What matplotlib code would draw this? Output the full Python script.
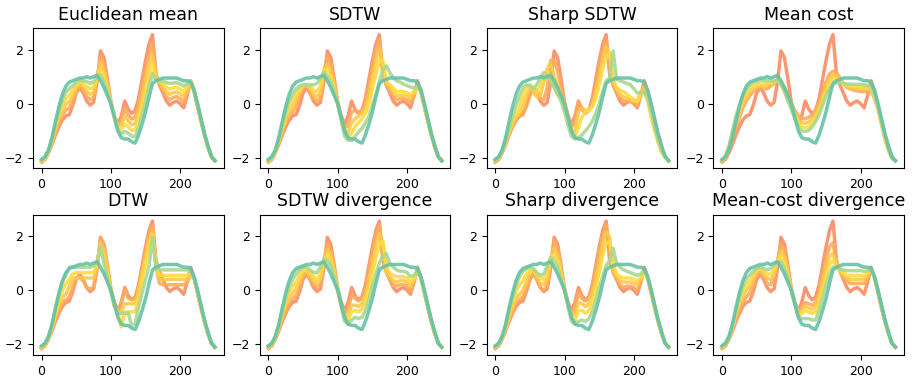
import matplotlib
matplotlib.use("Agg")
import matplotlib.pyplot as plt

# time axis, one sample every 5 steps
x = list(range(0, 251, 5))

# the two input series (orange-red and teal)
series_a = [-2.15, -2.05, -1.8, -1.5, -1.15, -0.85, -0.6, -0.45, -0.4, -0.05,
            0.4, 0.6, 0.4, 0.1, -0.05, 0.05, 0.8, 1.95, 1.7, 0.9,
            0.05, -0.45, -0.75, -0.45, 0.1, -0.2, -0.35, -0.25, 0.2, 0.9,
            1.6, 2.2, 2.55, 1.1, 0.7, 0.4, 0.1, -0.05, 0.05, 0.1,
            0.0, -0.15, 0.3, 0.85, 0.45, -0.1, -0.65, -1.15, -1.6, -1.95,
            -2.1]
series_b = [-2.05, -1.95, -1.7, -1.25, -0.65, -0.1, 0.35, 0.65, 0.8, 0.85,
            0.9, 0.95, 0.95, 1.0, 0.95, 1.0, 1.05, 0.85, 0.6, 0.3,
            0.0, -0.5, -1.0, -1.25, -1.3, -1.3, -1.4, -1.45, -1.15, -0.75,
            -0.3, 0.25, 0.75, 0.85, 0.9, 0.95, 0.95, 0.95, 0.95, 0.95,
            0.9, 0.85, 0.85, 0.8, 0.5, 0.0, -0.55, -1.1, -1.55, -1.95,
            -2.1]

# Euclidean mean
euc_1 = [-2.13, -2.03, -1.78, -1.45, -1.05, -0.7, -0.41, -0.23, -0.16, 0.13,
         0.5, 0.67, 0.51, 0.28, 0.15, 0.24, 0.85, 1.73, 1.48, 0.78,
         0.04, -0.46, -0.8, -0.61, -0.18, -0.42, -0.56, -0.49, -0.07, 0.57,
         1.22, 1.81, 2.19, 1.05, 0.74, 0.51, 0.27, 0.15, 0.23, 0.27,
         0.18, 0.05, 0.41, 0.84, 0.46, -0.08, -0.63, -1.14, -1.59, -1.95,
         -2.1]
euc_2 = [-2.11, -2.01, -1.76, -1.4, -0.95, -0.55, -0.22, -0.01, 0.08, 0.31,
         0.6, 0.74, 0.62, 0.46, 0.35, 0.43, 0.9, 1.51, 1.26, 0.66,
         0.03, -0.47, -0.85, -0.77, -0.46, -0.64, -0.77, -0.73, -0.34, 0.24,
         0.84, 1.42, 1.83, 1.0, 0.78, 0.62, 0.44, 0.35, 0.41, 0.44,
         0.36, 0.25, 0.52, 0.83, 0.47, -0.06, -0.61, -1.13, -1.58, -1.95,
         -2.1]
euc_3 = [-2.09, -1.99, -1.74, -1.35, -0.85, -0.4, -0.03, 0.21, 0.32, 0.49,
         0.7, 0.81, 0.73, 0.64, 0.55, 0.62, 0.95, 1.29, 1.04, 0.54,
         0.02, -0.48, -0.9, -0.93, -0.74, -0.86, -0.98, -0.97, -0.61, -0.09,
         0.46, 1.03, 1.47, 0.95, 0.82, 0.73, 0.61, 0.55, 0.59, 0.61,
         0.54, 0.45, 0.63, 0.82, 0.48, -0.04, -0.59, -1.12, -1.57, -1.95,
         -2.1]
euc_4 = [-2.07, -1.97, -1.72, -1.3, -0.75, -0.25, 0.16, 0.43, 0.56, 0.67,
         0.8, 0.88, 0.84, 0.82, 0.75, 0.81, 1.0, 1.07, 0.82, 0.42,
         0.01, -0.49, -0.95, -1.09, -1.02, -1.08, -1.19, -1.21, -0.88, -0.42,
         0.08, 0.64, 1.11, 0.9, 0.86, 0.84, 0.78, 0.75, 0.77, 0.78,
         0.72, 0.65, 0.74, 0.81, 0.49, -0.02, -0.57, -1.11, -1.56, -1.95,
         -2.1]

# SDTW
sdtw_1 = [-2.13, -2.03, -1.78, -1.45, -1.05, -0.7, -0.45, -0.3, -0.1, 0.3,
          0.6, 0.65, 0.45, 0.2, 0.1, 0.2, 1.2, 1.75, 1.45, 0.8,
          0.0, -0.5, -0.9, -0.8, -0.3, -0.25, -0.3, -0.25, 0.0, 0.6,
          1.3, 1.95, 2.35, 1.2, 0.7, 0.5, 0.3, 0.15, 0.2, 0.2,
          0.15, 0.05, 0.3, 0.7, 0.45, -0.08, -0.63, -1.14, -1.59, -1.95,
          -2.1]
sdtw_2 = [-2.11, -2.01, -1.75, -1.4, -0.95, -0.6, -0.3, -0.1, 0.15, 0.45,
          0.65, 0.7, 0.55, 0.35, 0.25, 0.4, 1.2, 1.45, 1.2, 0.65,
          0.0, -0.55, -1.0, -1.05, -0.7, -0.55, -0.45, -0.35, -0.15, 0.3,
          0.95, 1.6, 2.05, 1.4, 0.75, 0.6, 0.45, 0.3, 0.3, 0.3,
          0.3, 0.2, 0.35, 0.65, 0.45, -0.06, -0.61, -1.13, -1.58, -1.95,
          -2.1]
sdtw_3 = [-2.09, -1.99, -1.73, -1.35, -0.85, -0.45, -0.1, 0.15, 0.35, 0.55,
          0.7, 0.7, 0.65, 0.5, 0.45, 0.65, 1.25, 1.2, 1.0, 0.55,
          0.0, -0.6, -1.1, -1.2, -1.1, -0.85, -0.7, -0.55, -0.35, 0.0,
          0.55, 1.1, 1.6, 1.6, 0.85, 0.7, 0.6, 0.45, 0.45, 0.45,
          0.4, 0.35, 0.45, 0.6, 0.5, -0.04, -0.59, -1.12, -1.57, -1.95,
          -2.1]
sdtw_4 = [-2.07, -1.97, -1.72, -1.3, -0.75, -0.3, 0.1, 0.35, 0.55, 0.65,
          0.7, 0.7, 0.7, 0.7, 0.75, 0.95, 1.15, 1.0, 0.8, 0.45,
          0.0, -0.6, -1.2, -1.35, -1.35, -1.2, -1.05, -0.9, -0.7, -0.45,
          -0.05, 0.35, 0.8, 1.25, 1.4, 1.15, 0.95, 0.85, 0.8, 0.72,
          0.67, 0.62, 0.58, 0.58, 0.55, -0.02, -0.57, -1.11, -1.56, -1.95,
          -2.1]

# Sharp SDTW
sharp_1 = [-2.13, -2.03, -1.78, -1.47, -1.1, -0.8, -0.55, -0.45, -0.35, -0.1,
           0.3, 0.55, 0.5, 0.2, 0.15, 0.6, 1.6, 1.6, 1.2, 0.6,
           0.0, -0.45, -0.85, -0.7, 0.05, -0.15, -0.3, -0.25, 0.0, 0.6,
           1.3, 1.95, 2.35, 1.3, 0.7, 0.45, 0.25, 0.1, 0.1, 0.1,
           0.0, -0.1, 0.35, 0.7, 0.4, -0.15, -0.7, -1.2, -1.65, -1.95,
           -2.1]
sharp_2 = [-2.11, -2.01, -1.76, -1.45, -1.05, -0.75, -0.5, -0.35, -0.1, 0.3,
           0.55, 0.45, 0.25, 0.3, 0.8, 1.3, 1.5, 1.0, 0.7, 0.4,
           -0.05, -0.55, -1.0, -1.0, -0.3, -0.15, -0.25, -0.2, -0.1, 0.4,
           1.0, 1.6, 2.1, 1.8, 0.8, 0.55, 0.35, 0.25, 0.2, 0.15,
           0.1, 0.1, 0.45, 0.6, 0.35, -0.2, -0.8, -1.3, -1.7, -1.95,
           -2.1]
sharp_3 = [-2.09, -1.99, -1.74, -1.4, -1.0, -0.65, -0.4, -0.1, 0.3, 0.6,
           0.7, 0.6, 0.4, 0.65, 1.1, 1.2, 0.9, 0.6, 0.4, 0.2,
           -0.1, -0.65, -1.1, -1.2, -0.9, -0.5, -0.3, -0.25, -0.1, 0.2,
           0.7, 1.3, 1.7, 1.9, 0.9, 0.6, 0.5, 0.45, 0.35, 0.25,
           0.15, 0.1, 0.3, 0.45, 0.1, -0.5, -1.0, -1.45, -1.8, -1.95,
           -2.1]
sharp_4 = [-2.07, -1.97, -1.72, -1.35, -0.9, -0.45, -0.05, 0.3, 0.6, 0.7,
           0.65, 0.55, 0.7, 0.95, 1.15, 1.05, 0.85, 0.6, 0.35, 0.1,
           -0.3, -0.8, -1.2, -1.3, -1.25, -1.15, -1.0, -0.85, -0.65, -0.35,
           0.0, 0.45, 0.85, 0.95, 1.95, 0.9, 0.85, 0.8, 0.75, 0.7,
           0.55, 0.4, 0.4, 0.45, 0.2, -0.3, -0.85, -1.3, -1.7, -1.95,
           -2.1]

# Mean cost
mc_1 = [-2.12, -2.0, -1.7, -1.3, -0.9, -0.5, -0.15, 0.1, 0.3, 0.45,
        0.55, 0.6, 0.55, 0.55, 0.65, 0.75, 0.85, 0.8, 0.6, 0.3,
        0.0, -0.25, -0.45, -0.55, -0.55, -0.5, -0.4, -0.25, 0.05, 0.4,
        0.8, 1.1, 1.2, 1.15, 0.95, 0.75, 0.6, 0.55, 0.5, 0.48,
        0.45, 0.45, 0.45, 0.5, 0.2, -0.2, -0.75, -1.3, -1.7, -2.0,
        -2.1]
mc_2 = [-2.11, -1.98, -1.65, -1.2, -0.75, -0.35, 0.0, 0.25, 0.45, 0.55,
        0.62, 0.65, 0.65, 0.68, 0.72, 0.8, 0.85, 0.75, 0.55, 0.25,
        -0.05, -0.35, -0.6, -0.7, -0.72, -0.68, -0.55, -0.4, -0.1, 0.25,
        0.6, 0.9, 1.05, 1.05, 0.9, 0.75, 0.65, 0.6, 0.58, 0.57,
        0.56, 0.56, 0.56, 0.5, 0.25, -0.15, -0.7, -1.25, -1.7, -2.0,
        -2.1]
mc_3 = [-2.1, -1.95, -1.6, -1.1, -0.6, -0.2, 0.15, 0.4, 0.55, 0.65,
        0.7, 0.72, 0.72, 0.75, 0.78, 0.82, 0.85, 0.75, 0.5, 0.2,
        -0.1, -0.45, -0.7, -0.85, -0.88, -0.85, -0.72, -0.55, -0.25, 0.1,
        0.45, 0.75, 0.92, 0.95, 0.85, 0.75, 0.68, 0.65, 0.65, 0.65,
        0.65, 0.65, 0.63, 0.55, 0.3, -0.1, -0.65, -1.2, -1.65, -2.0,
        -2.1]
mc_4 = [-2.08, -1.92, -1.55, -1.0, -0.45, -0.05, 0.3, 0.55, 0.7, 0.78,
        0.82, 0.85, 0.85, 0.85, 0.85, 0.85, 0.85, 0.72, 0.45, 0.1,
        -0.2, -0.55, -0.85, -1.0, -1.02, -0.98, -0.85, -0.65, -0.4, -0.05,
        0.3, 0.55, 0.72, 0.78, 0.78, 0.75, 0.73, 0.72, 0.72, 0.72,
        0.72, 0.7, 0.68, 0.6, 0.35, -0.05, -0.6, -1.15, -1.65, -2.0,
        -2.1]

# DTW
dtw_1 = [-2.13, -2.03, -1.78, -1.45, -1.05, -0.75, -0.45, -0.35, -0.25, 0.1,
         0.45, 0.45, 0.35, 0.1, 0.05, 0.1, 0.85, 1.9, 1.65, 0.85,
         0.0, -0.5, -0.8, -0.5, 0.05, -0.3, -0.35, -0.3, 0.1, 0.75,
         1.4, 2.0, 2.35, 0.9, 0.25, 0.2, 0.2, 0.2, 0.2, 0.2,
         0.2, 0.2, 0.3, 0.55, 0.45, -0.1, -0.65, -1.15, -1.6, -1.95,
         -2.1]
dtw_2 = [-2.11, -2.01, -1.76, -1.4, -0.95, -0.6, -0.25, -0.15, 0.15, 0.45,
         0.45, 0.45, 0.45, 0.45, 0.45, 0.45, 0.9, 1.75, 1.5, 0.75,
         0.0, -0.55, -0.8, -0.8, -0.5, -0.5, -0.5, -0.5, 0.0, 0.6,
         1.25, 1.85, 2.2, 0.9, 0.4, 0.4, 0.4, 0.4, 0.4, 0.4,
         0.4, 0.4, 0.4, 0.55, 0.45, -0.08, -0.63, -1.14, -1.59, -1.95,
         -2.1]
dtw_3 = [-2.09, -1.99, -1.74, -1.35, -0.85, -0.45, 0.0, 0.25, 0.4, 0.6,
         0.65, 0.65, 0.65, 0.65, 0.65, 0.65, 0.95, 1.6, 1.3, 0.6,
         0.0, -0.6, -0.8, -1.35, -0.8, -0.8, -0.8, -0.8, -0.3, 0.4,
         1.0, 1.65, 2.0, 0.9, 0.55, 0.55, 0.55, 0.55, 0.55, 0.55,
         0.55, 0.55, 0.55, 0.6, 0.45, -0.06, -0.61, -1.13, -1.58, -1.95,
         -2.1]
dtw_4 = [-2.07, -1.97, -1.72, -1.3, -0.7, -0.2, 0.3, 0.55, 0.85, 0.85,
         0.85, 0.85, 0.85, 0.85, 0.85, 0.9, 1.05, 1.6, 1.0, 0.45,
         -0.05, -0.6, -0.85, -0.85, -0.85, -0.85, -1.3, -1.25, -0.6, -0.1,
         0.4, 0.9, 1.95, 0.85, 0.75, 0.75, 0.75, 0.75, 0.75, 0.75,
         0.75, 0.75, 0.75, 0.7, 0.45, -0.04, -0.59, -1.12, -1.57, -1.95,
         -2.1]

# SDTW divergence
sdiv_1 = [-2.13, -2.03, -1.78, -1.45, -1.05, -0.72, -0.45, -0.3, -0.2, 0.15,
          0.55, 0.65, 0.45, 0.2, 0.1, 0.2, 1.0, 1.75, 1.5, 0.8,
          0.0, -0.5, -0.85, -0.7, -0.2, -0.3, -0.4, -0.3, 0.05, 0.7,
          1.35, 2.0, 2.4, 1.3, 0.65, 0.4, 0.2, 0.15, 0.2, 0.2,
          0.15, -0.05, 0.3, 0.8, 0.45, -0.08, -0.63, -1.14, -1.59, -1.95,
          -2.1]
sdiv_2 = [-2.11, -2.01, -1.76, -1.4, -0.95, -0.58, -0.25, -0.1, 0.05, 0.35,
          0.65, 0.7, 0.55, 0.35, 0.25, 0.4, 1.05, 1.5, 1.3, 0.7,
          0.0, -0.55, -0.95, -0.95, -0.55, -0.55, -0.6, -0.5, -0.2, 0.35,
          1.0, 1.65, 2.1, 1.7, 0.7, 0.5, 0.35, 0.3, 0.35, 0.35,
          0.3, 0.15, 0.4, 0.75, 0.45, -0.06, -0.61, -1.13, -1.58, -1.95,
          -2.1]
sdiv_3 = [-2.09, -1.99, -1.74, -1.35, -0.85, -0.42, -0.05, 0.15, 0.3, 0.55,
          0.75, 0.75, 0.65, 0.5, 0.4, 0.6, 1.1, 1.3, 1.1, 0.6,
          0.0, -0.6, -1.05, -1.1, -0.8, -0.75, -0.8, -0.7, -0.45, 0.0,
          0.6, 1.2, 1.7, 1.85, 0.9, 0.6, 0.55, 0.5, 0.5, 0.5,
          0.45, 0.3, 0.45, 0.7, 0.45, -0.04, -0.59, -1.12, -1.57, -1.95,
          -2.1]
sdiv_4 = [-2.07, -1.97, -1.72, -1.3, -0.75, -0.28, 0.15, 0.4, 0.6, 0.75,
          0.85, 0.85, 0.75, 0.65, 0.65, 0.85, 1.15, 1.1, 0.9, 0.5,
          0.0, -0.6, -1.15, -1.25, -1.1, -1.0, -1.05, -1.0, -0.75, -0.35,
          0.15, 0.6, 1.0, 1.25, 1.35, 1.0, 0.85, 0.75, 0.7, 0.7,
          0.65, 0.5, 0.55, 0.7, 0.45, -0.02, -0.57, -1.11, -1.56, -1.95,
          -2.1]

# Sharp divergence
shdiv_1 = [-2.13, -2.03, -1.78, -1.46, -1.08, -0.75, -0.5, -0.35, -0.25, 0.1,
           0.5, 0.6, 0.4, 0.1, 0.0, 0.15, 1.0, 1.85, 1.5, 0.8,
           0.0, -0.5, -0.85, -0.65, -0.1, -0.3, -0.4, -0.3, 0.1, 0.75,
           1.4, 2.0, 2.4, 1.5, 0.65, 0.4, 0.2, 0.1, 0.15, 0.15,
           0.1, 0.0, 0.3, 0.8, 0.45, -0.08, -0.63, -1.14, -1.59, -1.95,
           -2.1]
shdiv_2 = [-2.11, -2.01, -1.76, -1.42, -1.0, -0.62, -0.3, -0.15, 0.0, 0.3,
           0.65, 0.7, 0.5, 0.25, 0.2, 0.4, 1.15, 1.55, 1.3, 0.7,
           0.0, -0.55, -0.95, -0.9, -0.45, -0.5, -0.6, -0.5, -0.15, 0.4,
           1.05, 1.7, 2.15, 1.95, 0.75, 0.5, 0.35, 0.3, 0.3, 0.3,
           0.25, 0.2, 0.4, 0.7, 0.45, -0.06, -0.61, -1.13, -1.58, -1.95,
           -2.1]
shdiv_3 = [-2.09, -1.99, -1.74, -1.36, -0.88, -0.45, -0.05, 0.2, 0.35, 0.6,
           0.75, 0.75, 0.6, 0.45, 0.4, 0.65, 1.2, 1.3, 1.1, 0.6,
           0.0, -0.6, -1.05, -1.1, -0.75, -0.75, -0.85, -0.75, -0.45, 0.05,
           0.65, 1.25, 1.75, 1.8, 1.0, 0.6, 0.5, 0.45, 0.45, 0.45,
           0.4, 0.35, 0.45, 0.7, 0.45, -0.04, -0.59, -1.12, -1.57, -1.95,
           -2.1]
shdiv_4 = [-2.07, -1.97, -1.72, -1.3, -0.75, -0.25, 0.2, 0.5, 0.7, 0.8,
           0.85, 0.8, 0.65, 0.55, 0.6, 0.9, 1.2, 1.1, 0.85, 0.45,
           0.0, -0.6, -1.15, -1.25, -1.15, -1.1, -1.15, -1.05, -0.8, -0.4,
           0.1, 0.5, 0.9, 1.1, 1.55, 1.0, 0.85, 0.75, 0.7, 0.65,
           0.6, 0.55, 0.6, 0.7, 0.45, -0.02, -0.57, -1.11, -1.56, -1.95,
           -2.1]

# Mean-cost divergence
mcdiv_1 = [-2.13, -2.03, -1.78, -1.45, -1.05, -0.7, -0.42, -0.25, -0.1, 0.25,
           0.6, 0.7, 0.5, 0.25, 0.2, 0.45, 1.1, 1.7, 1.45, 0.75,
           0.0, -0.5, -0.8, -0.65, -0.45, -0.5, -0.55, -0.45, -0.05, 0.55,
           1.15, 1.6, 1.75, 1.0, 0.7, 0.5, 0.35, 0.25, 0.25, 0.25,
           0.25, 0.25, 0.45, 0.8, 0.46, -0.08, -0.63, -1.14, -1.59, -1.95,
           -2.1]
mcdiv_2 = [-2.11, -2.01, -1.76, -1.4, -0.95, -0.55, -0.22, 0.0, 0.15, 0.4,
           0.7, 0.75, 0.6, 0.45, 0.4, 0.6, 1.1, 1.45, 1.25, 0.65,
           0.0, -0.5, -0.85, -0.75, -0.6, -0.65, -0.7, -0.6, -0.25, 0.3,
           0.85, 1.25, 1.35, 0.95, 0.72, 0.55, 0.45, 0.4, 0.4, 0.4,
           0.4, 0.4, 0.55, 0.78, 0.47, -0.06, -0.61, -1.13, -1.58, -1.95,
           -2.1]
mcdiv_3 = [-2.09, -1.99, -1.74, -1.35, -0.85, -0.4, -0.03, 0.2, 0.35, 0.55,
           0.75, 0.8, 0.7, 0.6, 0.6, 0.75, 1.1, 1.25, 1.05, 0.55,
           0.0, -0.5, -0.9, -0.85, -0.75, -0.8, -0.85, -0.8, -0.45, 0.05,
           0.55, 0.95, 1.1, 0.9, 0.75, 0.65, 0.55, 0.55, 0.55, 0.55,
           0.55, 0.55, 0.62, 0.75, 0.48, -0.04, -0.59, -1.12, -1.57, -1.95,
           -2.1]
mcdiv_4 = [-2.07, -1.97, -1.72, -1.3, -0.75, -0.25, 0.16, 0.43, 0.56, 0.7,
           0.8, 0.85, 0.8, 0.75, 0.8, 0.9, 1.05, 1.05, 0.8, 0.45,
           0.0, -0.5, -0.95, -1.05, -1.05, -1.05, -1.1, -1.1, -0.75, -0.3,
           0.2, 0.6, 0.85, 0.82, 0.78, 0.75, 0.72, 0.72, 0.72, 0.72,
           0.72, 0.7, 0.72, 0.75, 0.49, -0.02, -0.57, -1.11, -1.56, -1.95,
           -2.1]

titles = ["Euclidean mean", "SDTW", "Sharp SDTW", "Mean cost",
          "DTW", "SDTW divergence", "Sharp divergence", "Mean-cost divergence"]
middles = [
    [euc_1, euc_2, euc_3, euc_4],
    [sdtw_1, sdtw_2, sdtw_3, sdtw_4],
    [sharp_1, sharp_2, sharp_3, sharp_4],
    [mc_1, mc_2, mc_3, mc_4],
    [dtw_1, dtw_2, dtw_3, dtw_4],
    [sdiv_1, sdiv_2, sdiv_3, sdiv_4],
    [shdiv_1, shdiv_2, shdiv_3, shdiv_4],
    [mcdiv_1, mcdiv_2, mcdiv_3, mcdiv_4],
]

# orange-red -> yellow -> teal
colors = ['#fc8d62', '#fdab5a', '#fec84a', '#ffdb3f', '#a8d890', '#66c2a5']

fig, axes = plt.subplots(2, 4, figsize=(9.15, 3.82), dpi=100)
plt.subplots_adjust(left=0.036, right=0.988, bottom=0.071, top=0.926,
                    wspace=0.19, hspace=0.33)

for ax, title, mids in zip(axes.flat, titles, middles):
    curves = [series_a] + mids + [series_b]
    for y, c in zip(curves, colors):
        ax.plot(x, y, color=c, lw=2.5, alpha=0.9)
    ax.set_title(title, fontsize=12.5)
    ax.set_xticks([0, 100, 200])
    ax.set_yticks([-2, 0, 2])
    ax.tick_params(labelsize=9)

plt.savefig('out.png')
